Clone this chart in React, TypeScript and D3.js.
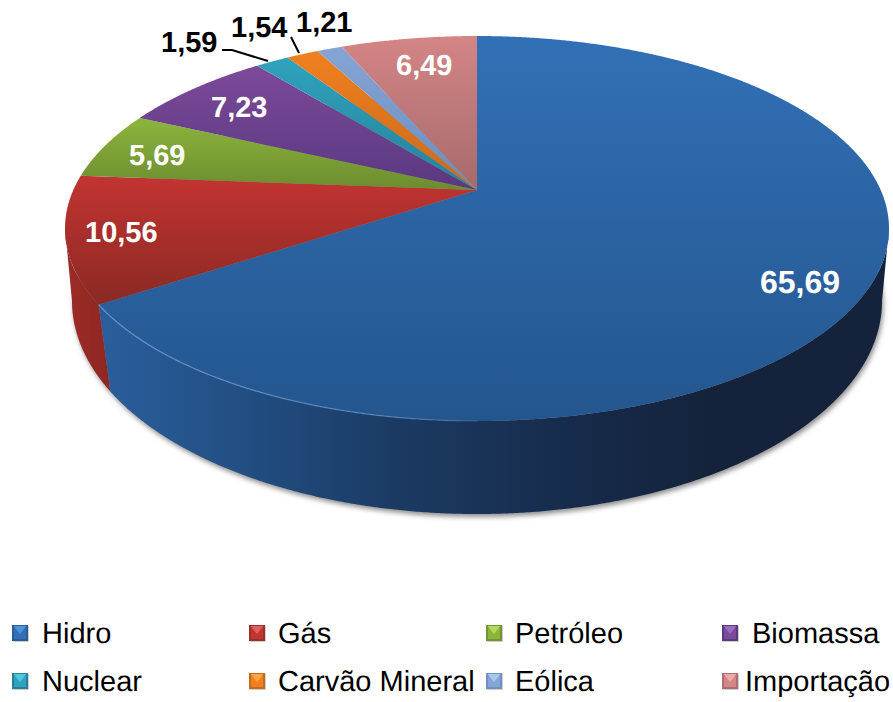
import React from "react";
import * as d3 from "d3";

// Electricity supply shares by source (%)
const sources = ["Hidro", "Gás", "Petróleo", "Biomassa", "Nuclear", "Carvão Mineral", "Eólica", "Importação"];
const shares = [65.69, 10.56, 5.69, 7.23, 1.59, 1.54, 1.21, 6.49];

// Face shading per source: upper colour, lower colour
const faceTop = ["#3270b6", "#c23431", "#8cb53d", "#7c4a99", "#2fa3bd", "#f0801f", "#85a5d6", "#d48585"];
const faceBottom = ["#24568e", "#8a2924", "#6c8c2f", "#5a3880", "#27809a", "#c9691c", "#6f8cba", "#a66a6c"];
const swatchLight = ["#4f93dc", "#e2605c", "#b2d85c", "#9a6cc0", "#4cc8e2", "#ffa548", "#a9c8f0", "#eeaaaa"];
const swatchDark = ["#2a5c96", "#98302b", "#749332", "#573a80", "#26809a", "#c66a1c", "#7090c0", "#ac6e6e"];

// Legend grid: column for each source, with marker and text positions
const legendMarkerX = [12, 249, 486, 722, 12, 249, 486, 722];
const legendTextX = [42, 278, 515, 752, 42, 278, 515, 745];
const legendRowY = [643, 691];

// Value label placement (text start x, baseline y, size, colour)
const labelX = [760, 85, 129, 211, 161, 231, 296, 396];
const labelY = [293, 242, 165, 117, 52, 37, 32, 75];
const labelSize = [32, 29, 29, 29, 29, 29, 29, 29];
const labelFill = ["#fff", "#fff", "#fff", "#fff", "#000", "#000", "#000", "#fff"];

// Leader lines for the narrow slices
const leaders: [number, number][][] = [
  [[222, 50], [232, 50], [268, 61]],
  [[291, 37], [299, 53]],
];

// Tilted disc geometry: upper rim, lower rim and the apex offset
const W = 893;
const H = 702;
const cx = 477;
const top = { rx: 412, cy: 228.5, ry: 192.5 };
const bottom = { rx: 405, cy: 301, ry: 213 };
const apexY = 190;
const c = (apexY - top.cy) / top.ry;
const rimSkew = (1.8 * Math.PI) / 180;

// Perspective mapping of a pie angle on to the normalised rim
const rim = (a: number): [number, number] => {
  const u = Math.sin(a);
  const v = -Math.cos(a);
  const d = 1 + c * v;
  return [(u * Math.sqrt(1 - c * c)) / d, (v + c) / d];
};
const onTop = (a: number): [number, number] => {
  const [X, Y] = rim(a);
  return [cx + X * top.rx, top.cy + Y * top.ry];
};
const onBottom = (a: number): [number, number] => {
  const [X, Y] = rim(a);
  const raw = Math.atan2(Y, X);
  // The wall leans slightly outwards on the left, easing off towards the left extreme
  const lean = X < 0 ? rimSkew * Math.min(1, Math.abs(Y) * 3) : 0;
  const t = raw - lean;
  return [cx + Math.cos(t) * bottom.rx, bottom.cy + Math.sin(t) * bottom.ry];
};

const sampleAngles = (a0: number, a1: number) => {
  const n = Math.max(2, Math.ceil((a1 - a0) / 0.005));
  return d3.range(n + 1).map((i) => a0 + ((a1 - a0) * i) / n);
};

const pieAngles = d3.pie<number>().sort(null).value((d) => d)(shares);
const path = d3.line<[number, number]>();
const frontStart = Math.acos(c);
const frontEnd = 2 * Math.PI - frontStart;

const labelText = d3.format(".2f");

const fullBottom = d3.range(0, 361, 1).map((deg) => {
  const t = (deg * Math.PI) / 180;
  return [cx + Math.cos(t) * bottom.rx, bottom.cy + Math.sin(t) * bottom.ry] as [number, number];
});

const Swatch = ({ x, y, i }: { x: number; y: number; i: number }) => {
  const s = 16;
  const m = s / 2;
  return (
    <g transform={`translate(${x},${y})`}>
      <rect x={0.8} y={0.8} width={s} height={s} fill="#aaa" opacity={0.7} />
      <rect width={s} height={s} fill={swatchDark[i]} />
      <rect x={2} y={3} width={s - 4} height={s - 5} fill={faceTop[i]} />
      <path d={`M1.5,1L${s - 1.5},1L${m},${m + 1}Z`} fill={swatchLight[i]} />
      <rect y={s - 2} width={s} height={2} fill={swatchDark[i]} />
    </g>
  );
};

export default function App() {
  return (
    <svg
      width={W}
      height={H}
      viewBox={`0 0 ${W} ${H}`}
      style={{ position: "absolute", left: 0, top: 0, background: "#fff" }}
      fontFamily="'Liberation Sans', Arial, sans-serif"
      textRendering="geometricPrecision"
    >
      <defs>
        <filter id="discShadow" x="-5%" y="-5%" width="110%" height="115%">
          <feGaussianBlur stdDeviation="2.6" />
        </filter>
        {shares.map((_, i) => (
          <linearGradient key={i} id={`face${i}`} x1="0" y1="0" x2="0" y2="1">
            <stop offset="0" stopColor={faceTop[i]} />
            <stop offset="1" stopColor={faceBottom[i]} />
          </linearGradient>
        ))}
        <linearGradient id="side0" gradientUnits="userSpaceOnUse" x1="103" y1="0" x2="885" y2="0">
          <stop offset="0" stopColor="#2a5e9b" />
          <stop offset="0.2" stopColor="#214c80" />
          <stop offset="0.38" stopColor="#1b3a62" />
          <stop offset="0.62" stopColor="#162a49" />
          <stop offset="0.78" stopColor="#14233b" />
          <stop offset="1" stopColor="#14233b" />
        </linearGradient>
        <linearGradient id="side1" gradientUnits="userSpaceOnUse" x1="65" y1="0" x2="112" y2="0">
          <stop offset="0" stopColor="#9e2b26" />
          <stop offset="1" stopColor="#8c2722" />
        </linearGradient>
        <linearGradient id="rimGlow" gradientUnits="userSpaceOnUse" x1="103" y1="0" x2="520" y2="0">
          <stop offset="0" stopColor="#6f9fd8" stopOpacity="0.75" />
          <stop offset="0.7" stopColor="#6f9fd8" stopOpacity="0.55" />
          <stop offset="1" stopColor="#6f9fd8" stopOpacity="0" />
        </linearGradient>
      </defs>

      {/* soft ground shadow under the disc */}
      <path
        d={path(fullBottom)! + "Z"}
        transform="translate(1.5,3)"
        fill="#555"
        opacity={0.65}
        filter="url(#discShadow)"
      />

      {/* visible wall of the disc */}
      {pieAngles.map((arc, i) => {
        const a0 = Math.max(arc.startAngle, frontStart);
        const a1 = Math.min(arc.endAngle, frontEnd);
        if (a1 <= a0) return null;
        const angles = sampleAngles(a0, a1);
        const outline = [...angles.map(onTop), ...angles.slice().reverse().map(onBottom)];
        return <path key={i} d={path(outline)! + "Z"} fill={`url(#side${i})`} />;
      })}

      {/* slice faces */}
      {pieAngles.map((arc, i) => {
        const outline: [number, number][] = [[cx, apexY], ...sampleAngles(arc.startAngle, arc.endAngle).map(onTop)];
        return <path key={i} d={path(outline)! + "Z"} fill={`url(#face${i})`} />;
      })}

      {/* highlight on the front rim */}
      <path
        d={path(sampleAngles(Math.PI, pieAngles[0].endAngle).map(onTop))!}
        fill="none"
        stroke="url(#rimGlow)"
        strokeWidth={1.3}
      />

      {leaders.map((pts, i) => (
        <path key={i} d={path(pts)!} fill="none" stroke="#000" strokeWidth={2} />
      ))}

      {shares.map((v, i) => (
        <text
          key={i}
          x={labelX[i]}
          y={labelY[i]}
          fontSize={labelSize[i]}
          fontWeight={700}
          fill={labelFill[i]}
        >
          {labelText(v).replace(".", ",")}
        </text>
      ))}

      {sources.map((name, i) => {
        const row = i < 4 ? 0 : 1;
        return (
          <g key={name}>
            <Swatch x={legendMarkerX[i]} y={legendRowY[row] - 18} i={i} />
            <text x={legendTextX[i]} y={legendRowY[row]} fontSize={29} fill="#000">
              {name}
            </text>
          </g>
        );
      })}
    </svg>
  );
}
